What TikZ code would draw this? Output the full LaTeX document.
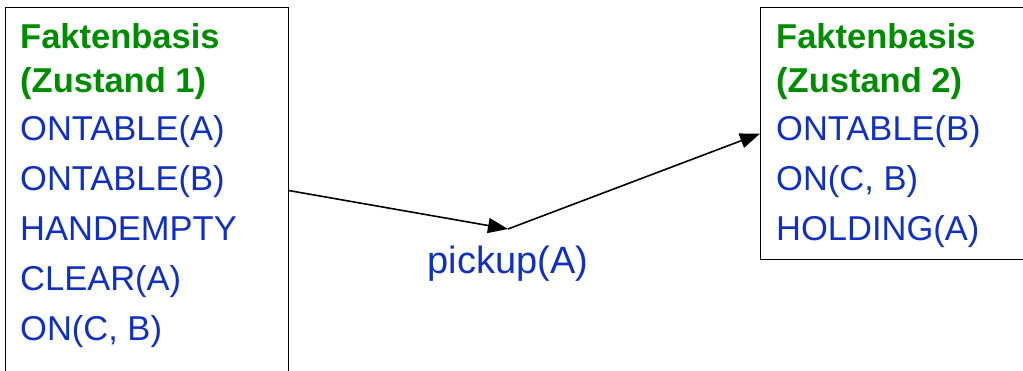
\documentclass[tikz,border=0pt]{standalone}
\usepackage{fontspec}
\setmainfont{Liberation Sans}
\usetikzlibrary{arrows.meta, positioning}
\definecolor{factgreen}{RGB}{0,140,0}
\definecolor{factblue}{RGB}{16,48,192}

\begin{document}
\begin{tikzpicture}[x=1pt, y=-1pt,
        box/.style={draw, line width=1.2pt, inner sep=0pt, anchor=north west},
        title/.style={font=\fontsize{34.5}{44}\selectfont\bfseries, text=factgreen, align=left, anchor=base west, inner sep=0pt},
        fact/.style={font=\fontsize{34.5}{50}\selectfont, text=factblue, anchor=base west, inner sep=0pt},
        arrow/.style={-{Triangle[length=20pt, width=15pt]}, line width=1.6pt}
    ]
    \useasboundingbox (0,0) rectangle (1023,370);

    % Zustand 1
    \node[box, minimum width=283pt, minimum height=366pt] (state1) at (5,7) {};
    \node[title] (title1) at (20,92) {Faktenbasis\\(Zustand 1)};
    \foreach \fact [count=\i] in {ONTABLE(A), ONTABLE(B), HANDEMPTY, CLEAR(A), {ON(C, B)}}
        \node[fact] (fact1-\i) at (20, 90+50*\i) {\fact};

    % Zustand 2
    \node[box, minimum width=270pt, minimum height=252pt] (state2) at (760,7) {};
    \node[title] (title2) at (776,92) {Faktenbasis\\(Zustand 2)};
    \foreach \fact [count=\i] in {ONTABLE(B), {ON(C, B)}, HOLDING(A)}
        \node[fact] (fact2-\i) at (776, 90+50*\i) {\fact};

    % Aktion
    \coordinate (mid) at (508,229);
    \node[fact, anchor=base, font=\fontsize{38}{46}\selectfont] (action) at (508,273) {pickup(A)};

    % Arrows
    \draw[arrow] (state1.east) -- (mid);
    \draw[arrow] (mid) -- (state2.west);

\end{tikzpicture}
\end{document}
